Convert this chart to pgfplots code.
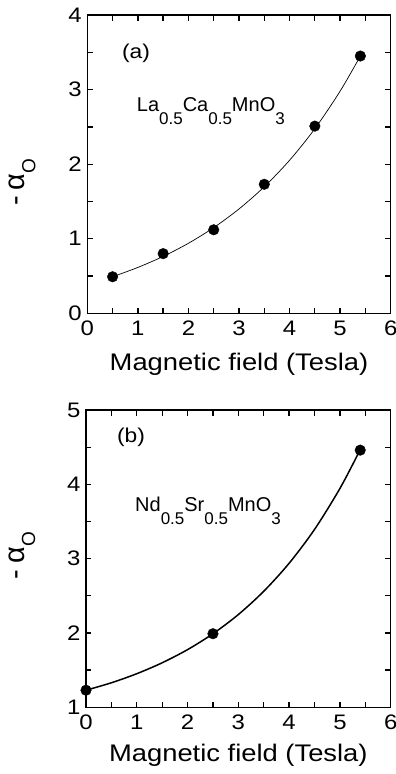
\documentclass[border=0pt]{standalone}
\usepackage{fontspec}
\setmainfont{Liberation Sans}
\usepackage{graphicx}
\usepackage{pgfplots}
\pgfplotsset{compat=1.18}
\newcommand\hs[1]{\scalebox{1.14}[1]{#1}}
\newcommand\sub[1]{\raisebox{-13pt}{\fontsize{17}{17}\selectfont #1}}
\newcommand\alabel{{\fontsize{29}{29}\selectfont -\hspace{6pt}α\raisebox{-11pt}{\fontsize{19}{19}\selectfont O}}}
\pgfplotsset{
  panel/.style={
    scale only axis,
    xmin=0, xmax=6, xtick={0,...,6},
    minor x tick num=1, minor y tick num=1,
    tick align=inside, major tick length=5.5pt, minor tick length=5.5pt,
    axis line style={line width=1.4pt},
    every tick/.style={line width=1.3pt, black},
    /pgf/number format/assume math mode=true,
    tick label style={font=\fontsize{21}{21}\selectfont},
    xticklabel={\hs{\pgfmathprintnumber{\tick}}},
    yticklabel={\hs{\pgfmathprintnumber{\tick}}},
    xticklabel shift=4pt,
    yticklabel shift=2pt,
    label style={font=\fontsize{24}{24}\selectfont},
    xlabel={\hs{Magnetic field (Tesla)}},
    ylabel={\alabel},
    clip=false,
  }
}
\begin{document}
\begin{tikzpicture}
\path[use as bounding box] (-87.3pt,-460.7pt) rectangle (308.7pt,313.3pt);
% panel (a)
\begin{axis}[panel, width=303.4pt, height=298.3pt, ymin=0, ymax=4, ytick={0,...,4},
  xlabel style={at={(axis description cs:0.5,-0.17)}, anchor=center},
  ylabel style={at={(axis description cs:-0.215,0.44)}, anchor=center}]
\addplot[black, line width=0.7pt, smooth] coordinates {
(0.5,0.49) (1,0.615) (1.5,0.763) (2,0.939) (2.5,1.149) (3,1.399) (3.5,1.697) (4,2.052) (4.5,2.475) (5,2.979) (5.4,3.45)};
\addplot[only marks, mark=*, mark size=5.3pt, black] coordinates {
(0.5,0.49) (1.5,0.80) (2.5,1.12) (3.5,1.73) (4.5,2.51) (5.4,3.45)};
\node[anchor=center, font=\fontsize{20}{20}\selectfont] at (axis cs:0.963,3.48) {\hs{(a)}};
\node[anchor=base west, font=\fontsize{20}{20}\selectfont, inner sep=0pt] at (axis cs:0.977,2.70) {La\sub{0.5}Ca\sub{0.5}MnO\sub{3}};
\end{axis}
% panel (b)
\begin{axis}[panel, at={(-1.3pt,-394pt)}, width=304.7pt, height=297.3pt, ymin=1, ymax=5, ytick={1,...,5},
  xlabel style={at={(axis description cs:0.5,-0.16)}, anchor=center},
  ylabel style={at={(axis description cs:-0.21,0.51)}, anchor=center}]
\addplot[black, line width=1.5pt, smooth] coordinates {
(0,1.23) (0.5,1.33) (1,1.452) (1.5,1.599) (2,1.776) (2.5,1.99) (3,2.248) (3.5,2.561) (4,2.938) (4.5,3.393) (5,3.944) (5.4,4.466)};
\addplot[only marks, mark=*, mark size=5.3pt, black] coordinates {
(0,1.23) (2.5,1.99) (5.4,4.46)};
\node[anchor=center, font=\fontsize{20}{20}\selectfont] at (axis cs:0.886,4.63) {\hs{(b)}};
\node[anchor=base west, font=\fontsize{20}{20}\selectfont, inner sep=0pt] at (axis cs:0.965,3.63) {Nd\sub{0.5}Sr\sub{0.5}MnO\sub{3}};
\end{axis}
\end{tikzpicture}
\end{document}
